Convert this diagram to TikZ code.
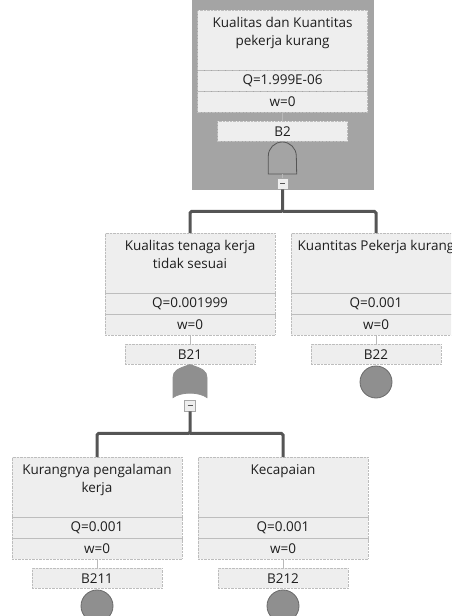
\documentclass[tikz,border=0pt]{standalone}
\usepackage{fontspec}
\setmainfont{Open Sans}
\usetikzlibrary{positioning}

\definecolor{boxfill}{HTML}{EEEEEE}
\definecolor{boxline}{HTML}{BDBDBD}
\definecolor{selgray}{HTML}{A4A4A4}
\definecolor{gatecol}{HTML}{8F8F8F}
\definecolor{gateline}{HTML}{6A6A6A}
\definecolor{linkgray}{HTML}{555555}
\definecolor{textgray}{HTML}{1E1E1E}
\newcommand{\evfont}{\fontsize{13.5}{18}\selectfont}

\tikzset{
  evbox/.style={draw=boxline, densely dotted, fill=boxfill, minimum width=170pt, inner sep=0pt, text=textgray},
  ttlbox/.style={evbox, minimum height=60pt},
  rowbox/.style={evbox, minimum height=20.5pt, font=\evfont},
  tagbox/.style={evbox, minimum width=130pt, minimum height=20pt, font=\evfont},
  ttltext/.style={font=\evfont, align=center, inner sep=0pt, text=textgray},
  gatefill/.style={fill=gatecol, draw=gateline, line width=0.8pt},
  minusbox/.style={draw=gray!70, fill=boxfill, minimum size=11pt, inner sep=0pt},
  link/.style={draw=linkgray, line width=3pt, rounded corners=1.5pt},
  stub/.style={draw=gray!55, line width=1pt}
}

\begin{document}
\begin{tikzpicture}[x=1pt, y=1pt]
  \useasboundingbox (0,0) rectangle (451,-616);
  \clip (0,0) rectangle (451,-616);

  % selected top event
  \fill[selgray] (192,0) rectangle (374,-190);

  % top event B2
  \node[ttlbox, anchor=north] (t2) at (282.5,-10) {};
  \node[ttltext, anchor=north, yshift=-7pt] (tt2) at (t2.north) {Kualitas dan Kuantitas\\pekerja kurang};
  \node[rowbox, below=0pt of t2] (q2) {Q=1.999E-06};
  \node[rowbox, below=0pt of q2] (w2) {w=0};
  \node[tagbox, below=9pt of w2] (b2) {B2};
  \node[minimum width=28pt, minimum height=32pt, inner sep=0pt, below=0pt of b2] (g2) {};
  \draw[gatefill, fill=selgray, draw=linkgray] (g2.south west) -- ++(0,18) arc[start angle=180, end angle=0, radius=14] -- (g2.south east) -- cycle;
  \node[minusbox, below=4pt of g2] (m2) {\color{linkgray}\rule[0.5pt]{5pt}{1pt}};
  \coordinate[below=22pt of m2] (j2);
  \draw[stub] (w2) -- (b2);
  \draw[stub] (g2) -- (m2);

  % B21 (OR)
  \node[ttlbox, anchor=north] (t21) at (190,-233) {};
  \node[ttltext, anchor=north, yshift=-7pt] (tt21) at (t21.north) {Kualitas tenaga kerja\\tidak sesuai};
  \node[rowbox, below=0pt of t21] (q21) {Q=0.001999};
  \node[rowbox, below=0pt of q21] (w21) {w=0};
  \node[tagbox, below=9pt of w21] (b21) {B21};
  \node[minimum width=34pt, minimum height=33pt, inner sep=0pt, below=0pt of b21] (g21) {};
  \draw[gatefill, draw=gatecol] (g21.north) .. controls +(12,-4) and +(0,7) .. ++(17,-13) -- ++(0,-20)
    .. controls +(-8,6) and +(8,6) .. ++(-34,0) -- ++(0,20) .. controls +(0,7) and +(-12,-4) .. (g21.north) -- cycle;
  \node[minusbox, below=2pt of g21] (m21) {\color{linkgray}\rule[0.5pt]{5pt}{1pt}};
  \coordinate[below=22pt of m21] (j21);
  \draw[stub] (w21) -- (b21);

  % B22 (basic)
  \node[ttlbox, anchor=north] (t22) at (376,-233) {};
  \node[ttltext, anchor=north, yshift=-7pt] (tt22) at (t22.north) {Kuantitas Pekerja kurang};
  \node[rowbox, below=0pt of t22] (q22) {Q=0.001};
  \node[rowbox, below=0pt of q22] (w22) {w=0};
  \node[tagbox, below=9pt of w22] (b22) {B22};
  \node[circle, gatefill, minimum size=32pt, inner sep=0pt, below=1pt of b22] (c22) {};
  \draw[stub] (w22) -- (b22);

  % B211 (basic)
  \node[ttlbox, anchor=north] (t211) at (97,-457) {};
  \node[ttltext, anchor=north, yshift=-7pt] (tt211) at (t211.north) {Kurangnya pengalaman\\kerja};
  \node[rowbox, below=0pt of t211] (q211) {Q=0.001};
  \node[rowbox, below=0pt of q211] (w211) {w=0};
  \node[tagbox, below=9pt of w211] (b211) {B211};
  \node[circle, gatefill, minimum size=32pt, inner sep=0pt, below=1pt of b211] (c211) {};
  \draw[stub] (w211) -- (b211);

  % B212 (basic)
  \node[ttlbox, anchor=north] (t212) at (283,-457) {};
  \node[ttltext, anchor=north, yshift=-7pt] (tt212) at (t212.north) {Kecapaian};
  \node[rowbox, below=0pt of t212] (q212) {Q=0.001};
  \node[rowbox, below=0pt of q212] (w212) {w=0};
  \node[tagbox, below=9pt of w212] (b212) {B212};
  \node[circle, gatefill, minimum size=32pt, inner sep=0pt, below=1pt of b212] (c212) {};
  \draw[stub] (w212) -- (b212);

  % connectors
  \draw[link] (m2) -- (j2) -| (t21);
  \draw[link] (j2) -| (t22);
  \draw[link] (m21) -- (j21) -| (t211);
  \draw[link] (j21) -| (t212);
\end{tikzpicture}
\end{document}
